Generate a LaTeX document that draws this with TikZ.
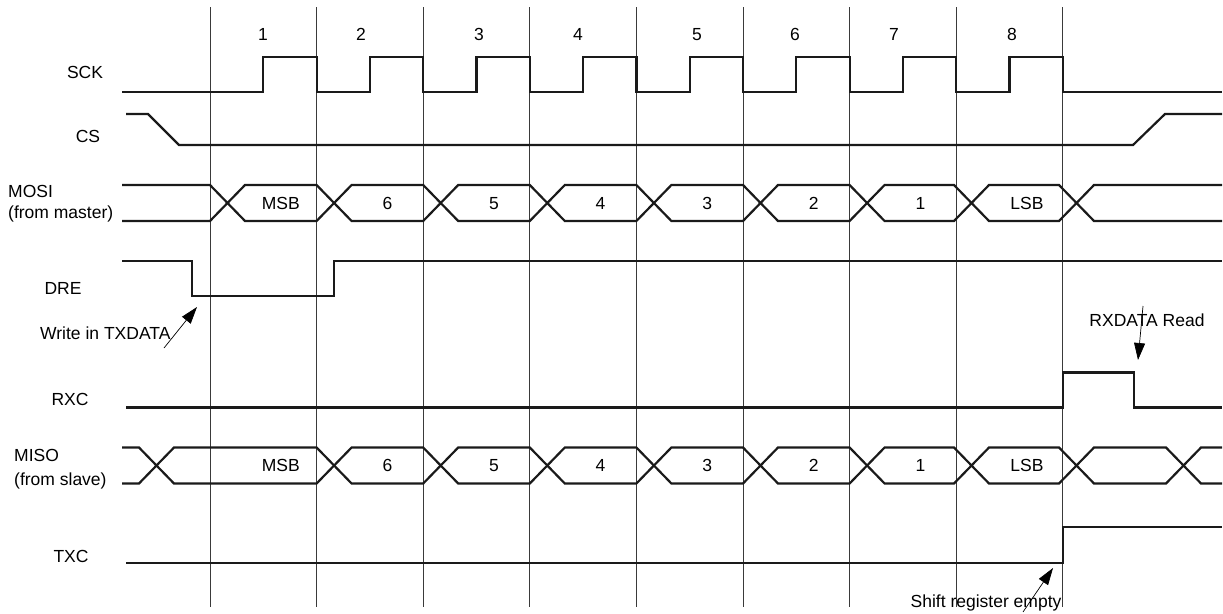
\documentclass[tikz,border=0pt]{standalone}
\usepackage{fontspec}
\setmainfont{Liberation Sans}
\usetikzlibrary{positioning,calc,arrows.meta}
\definecolor{spiWave}{HTML}{1A1A1A}
\definecolor{spiGrid}{HTML}{3A3A3A}

\tikzset{
  wave/.style={spiWave, line width=2.2pt, line join=miter},
  gridline/.style={spiGrid, line width=1pt},
  txt/.style={font=\fontsize{17.5}{19}\selectfont, inner sep=0pt,
              text height=12.5pt, text depth=0pt},
  pointer/.style={black, line width=0.7pt,
                  -{Triangle[length=17pt, width=11pt]}}
}

\begin{document}
\begin{tikzpicture}[x=1pt, y=-1pt]

% --- FRAME (pixel units, y downwards) ---
\useasboundingbox (0,0) rectangle (1223,613);

\def\xStart{122}
\def\xEnd{1222}
\def\gx{210}      % first grid line
\def\gdx{106.6}   % bit period
\def\xw{35}       % width of a bus crossing
\def\yMo{203}     % MOSI bus middle
\def\yMi{465.5}   % MISO bus middle

% --- GRID LINES ---
\foreach \i in {0,...,8} {
  \pgfmathsetmacro\xpos{\gx + \gdx*\i}
  \coordinate (gt\i) at (\xpos,7);
  \coordinate (gb\i) at (\xpos,607);
  \draw[gridline] (gt\i) -- (gb\i);
}

% --- CYCLE NUMBERS ---
\foreach \n/\xv in {1/263, 2/361, 3/479, 4/578, 5/697, 6/795, 7/894, 8/1012} {
  \node[txt] (cyc\n) at (\xv,34) {\n};
}

% --- SIGNAL NAMES ---
\node[txt] (sck) at (85,72) {SCK};
\node[txt] (cs) at (88,136) {CS};
\node[txt, anchor=west] (mosi) at (8,191) {MOSI};
\node[txt, anchor=west] (mosiSub) at (8,212) {(from master)};
\node[txt] (dre) at (63,288) {DRE};
\node[txt] (rxc) at (70,399) {RXC};
\node[txt, anchor=west] (miso) at (14,455) {MISO};
\node[txt, anchor=west] (misoSub) at (14,479) {(from slave)};
\node[txt] (txc) at (71,556) {TXC};

% --- SCK ---
\draw[wave] (\xStart,92) -- (\gx,92)
  foreach \i in {0,...,7} {
    -- ({\gx+\gdx*(\i+0.5)},92) -- ({\gx+\gdx*(\i+0.5)},57)
    -- ({\gx+\gdx*(\i+1)},57) -- ({\gx+\gdx*(\i+1)},92)
  } -- (\xEnd,92);

% --- CS ---
\draw[wave] (126,114) -- (148,114) -- (179,145) -- (1133,145)
  -- (1165,114) -- (\xEnd,114);

% --- MOSI bus ---
\def\crossMosi{210/1, 316.6/-1, 423.2/1, 529.8/-1, 636.4/1,
               743/-1, 849.6/1, 954/-1, 1059/1}
\draw[wave] (\xStart,{\yMo-18})
  foreach \cx/\s in \crossMosi {
    -- (\cx,{\yMo-18*\s}) -- ({\cx+\xw},{\yMo+18*\s})
  } -- (\xEnd,{\yMo+18});
\draw[wave] (\xStart,{\yMo+18})
  foreach \cx/\s in \crossMosi {
    -- (\cx,{\yMo+18*\s}) -- ({\cx+\xw},{\yMo-18*\s})
  } -- (\xEnd,{\yMo-18});

% --- DRE ---
\draw[wave] (\xStart,261) -- (192,261) -- (192,296) -- (334,296)
  -- (334,261) -- (\xEnd,261);

% --- RXC ---
\draw[wave] (126,407.5) -- (1063,407.5) -- (1063,372.5) -- (1134,372.5)
  -- (1134,407.5) -- (\xEnd,407.5);

% --- MISO bus ---
\def\crossMiso{139/1, 316.6/-1, 423.2/1, 529.8/-1, 636.4/1,
               743/-1, 849.6/1, 954/-1, 1059/1, 1166/-1}
\draw[wave] (\xStart,{\yMi-18})
  foreach \cx/\s in \crossMiso {
    -- (\cx,{\yMi-18*\s}) -- ({\cx+\xw},{\yMi+18*\s})
  } -- (\xEnd,{\yMi-18});
\draw[wave] (\xStart,{\yMi+18})
  foreach \cx/\s in \crossMiso {
    -- (\cx,{\yMi+18*\s}) -- ({\cx+\xw},{\yMi-18*\s})
  } -- (\xEnd,{\yMi+18});

% --- TXC ---
\draw[wave] (126,562.7) -- (1063,562.7) -- (1063,527.3) -- (\xEnd,527.3);

% --- BIT LABELS ---
\foreach \b/\i in {MSB/0, 6/1, 5/2, 4/3, 3/4, 2/5, 1/6, LSB/7} {
  \pgfmathsetmacro\xpos{\gx + \gdx*\i + 70.8}
  \node[txt] (mosiB\i) at (\xpos,\yMo) {\b};
  \node[txt] (misoB\i) at (\xpos,\yMi) {\b};
}

% --- NOTES + POINTERS ---
\node[txt, anchor=west] (wrNote) at (40,333) {Write in TXDATA};
\coordinate (wrTail) at (164,348);
\coordinate (wrTip) at (197,307);
\draw[pointer] (wrTail) -- (wrTip);

\node[txt] (rdNote) at (1147,320) {RXDATA Read};
\coordinate (rdTail) at (1143,306);
\coordinate (rdTip) at (1138,360);
\draw[pointer] (rdTail) -- (rdTip);

\node[txt] (shNote) at (986,601) {Shift register empty};
\coordinate (shTail) at (1023,612);
\coordinate (shTip) at (1053,568);
\draw[pointer] (shTail) -- (shTip);

\end{tikzpicture}
\end{document}
